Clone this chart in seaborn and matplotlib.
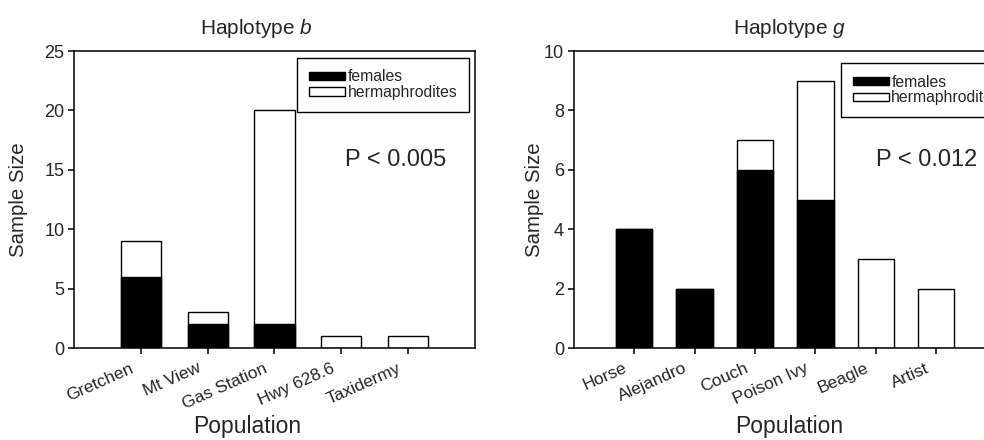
import pandas as pd
import matplotlib
matplotlib.use('Agg')
import matplotlib.pyplot as plt
import matplotlib.transforms as mtransforms
import seaborn as sns
from matplotlib.patches import Patch

sns.set_style('ticks')
plt.rcParams['font.family'] = ['Liberation Sans', 'DejaVu Sans']
plt.rcParams['mathtext.fontset'] = 'custom'
plt.rcParams['mathtext.it'] = 'Liberation Sans:italic'
plt.rcParams['mathtext.rm'] = 'Liberation Sans'

# haplotype b
POPS_B = ['Gretchen', 'Mt View', 'Gas Station', 'Hwy 628.6', 'Taxidermy']
FEMALES_B = [6, 2, 2, 0, 0]
HERMS_B = [3, 1, 18, 1, 1]

# haplotype g
POPS_G = ['Horse', 'Alejandro', 'Couch', 'Poison Ivy', 'Beagle', 'Artist']
FEMALES_G = [4, 2, 6, 5, 0, 0]
HERMS_G = [0, 0, 1, 4, 3, 2]


def stacked_panel(fig, ax, pops, females, herms, ymax, ystep, xmax):
    df = pd.DataFrame({'pop': pops, 'females': females, 'herms': herms})
    df['total'] = df['females'] + df['herms']
    sns.barplot(data=df, x='pop', y='total', color='white', edgecolor='black',
                linewidth=1.0, width=0.6, saturation=1, ax=ax)
    sns.barplot(data=df[df['females'] > 0], x='pop', y='females', order=pops,
                color='black', edgecolor='black', linewidth=1.0, width=0.6,
                saturation=1, ax=ax)
    ax.set_xlim(-1, xmax)
    ax.set_ylim(0, ymax)
    ax.set_yticks(range(0, ymax + 1, ystep))
    ax.set_xticklabels(pops, rotation=24, ha='right', fontsize=12.5)
    ax.tick_params(axis='y', labelsize=13, length=4, width=1.1, color='black', pad=3)
    ax.tick_params(axis='x', length=4, width=1.1, color='black', pad=5)
    shift = mtransforms.ScaledTranslation(-3.5 / 72, 0, fig.dpi_scale_trans)
    for lab in ax.get_xticklabels():
        lab.set_transform(lab.get_transform() + shift)
    for s in ax.spines.values():
        s.set_visible(True)
        s.set_color('black')
        s.set_linewidth(1.1)
    ax.set_xlabel('Population', fontsize=16.5)
    ax.set_ylabel('Sample Size', fontsize=14.7)
    handles = [Patch(facecolor='black', edgecolor='black', label='females'),
               Patch(facecolor='white', edgecolor='black', label='hermaphrodites')]
    return handles


legend_kw = dict(fontsize=11.3, frameon=True, fancybox=False, edgecolor='black',
                 framealpha=1, handlelength=2.3, handleheight=0.45, handletextpad=0.15,
                 labelspacing=0.05, borderpad=0.75, borderaxespad=0)

fig = plt.figure(figsize=(9.84, 4.4), dpi=100)
ax1 = fig.add_axes([0.0752, 0.209, 0.4075, 0.675])
ax2 = fig.add_axes([0.583, 0.209, 0.430, 0.675])

h = stacked_panel(fig, ax1, POPS_B, FEMALES_B, HERMS_B, 25, 5, 5)
ax1.legend(handles=h, loc='upper right', bbox_to_anchor=(0.985, 0.978), **legend_kw)
ax1.text(0.803, 0.633, 'P < 0.005', transform=ax1.transAxes, fontsize=17, ha='center', va='center')
ax1.set_title('Haplotype $\\it{b}$', fontsize=15, pad=12, x=0.456)
ax1.xaxis.set_label_coords(0.433, -0.225)
ax1.yaxis.set_label_coords(-0.115, 0.5)

h = stacked_panel(fig, ax2, POPS_G, FEMALES_G, HERMS_G, 10, 2, 6)
ax2.legend(handles=h, loc='upper left', bbox_to_anchor=(0.632, 0.96), **legend_kw)
ax2.text(0.833, 0.633, 'P < 0.012', transform=ax2.transAxes, fontsize=17, ha='center', va='center')
ax2.set_title('Haplotype $\\it{g}$', fontsize=15, pad=12, x=0.51)
ax2.xaxis.set_label_coords(0.51, -0.225)
ax2.yaxis.set_label_coords(-0.07, 0.5)

fig.savefig('out.png', dpi=100)
